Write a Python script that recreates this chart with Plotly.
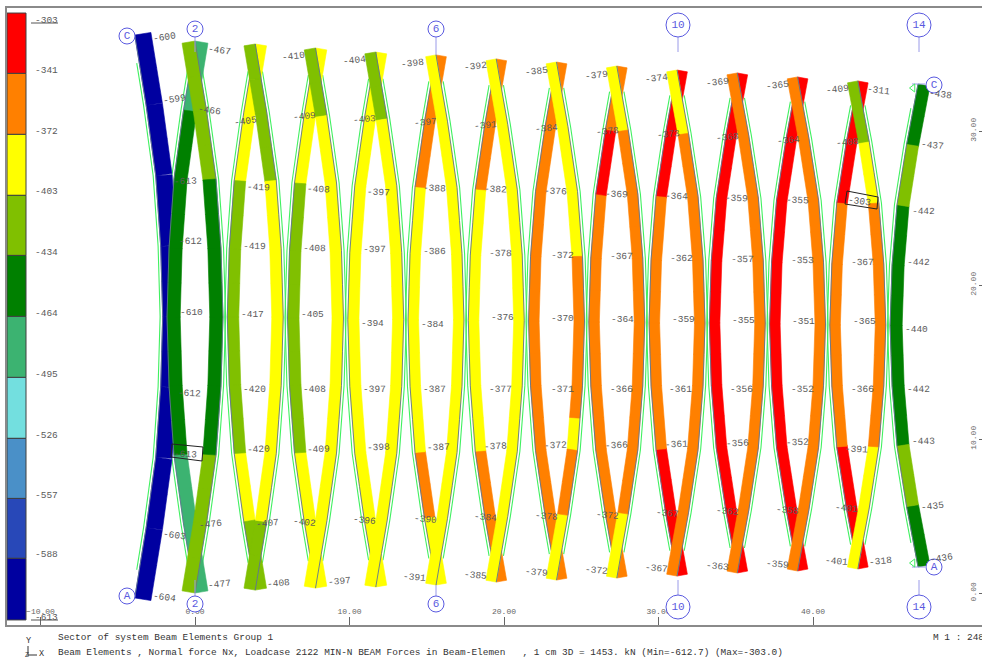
import numpy as np
import plotly.graph_objects as go

# ---------- data (model metres) ----------
GRID_X = [-3.9, 0.0, 3.9, 7.8, 11.7, 15.6, 19.5, 23.4, 27.3, 31.2, 35.1, 39.0, 42.9, 46.8]
TOP_Y = [36.23, 35.84, 35.65, 35.39, 35.13, 34.94, 34.68, 34.48, 34.22, 33.96, 33.77, 33.51, 33.25, 33.05]
BOT_Y = [-0.32, 0.00, 0.19, 0.32, 0.39, 0.52, 0.71, 0.84, 0.97, 1.10, 1.30, 1.43, 1.56, 1.69]
BAND_M = [1.06, 0.85, 0.74, 0.74, 0.72, 0.68, 0.68, 0.68, 0.68, 0.68, 0.68, 0.68, 0.68, 0.78]

NODE_T = [0, .125, .25, .375, .5, .625, .75, .875, 1]
BULGE_M = [0, .74, 1.36, 1.68, 1.81, 1.68, 1.36, .74, 0]

CLASS_NAMES = ["r", "o", "y", "g", "d", "m", "c", "s", "b", "n"]
CLASS_COLORS = ["#ff0000", "#ff8000", "#ffff00", "#80c000", "#008000",
                "#3cb371", "#73dfdf", "#4a90c8", "#2848b8", "#0000a0"]
LEGEND_VALUES = [-303, -341, -372, -403, -434, -464, -495, -526, -557, -588, -613]
LEGEND_EDGES_Y = [37.66, 33.74, 29.78, 25.82, 21.92, 17.96, 14.0, 10.04, 6.14, 2.25, -1.75]
LEGEND_LABEL_Y = [37.2, 33.9, 29.94, 26.04, 22.08, 18.18, 14.22, 10.26, 6.36, 2.47, -1.56]

# per 1/16 of chord: class letter of each piece
CLASSES_L = [
    "mmddddddddddmmmm", "yyyyggggggggyygg", "yyyyggggggggyyyy", "yyyyyyyyyyyyyyyy",
    "ooooyyyyyyyyooyy", "ooooyyyyyyyyoooo", "oooooooooooooooo", "oorroooooooooooo",
    "rrrroooooooorrrr", "rrrrrrrrrrrrrrrr", "rrrrrrrrrrrrrrrr", "rrrroooooooorrrr",
]
CLASSES_R = [
    "ggggddddddddgggg", "ggggyyyyyyyyyygg", "ggyyyyyyyyyyyyyy", "ggyyyyyyyyyyyyyy",
    "yyyyyyyyyyyyyyyy", "yyyyyyyyyyyyyyyy", "yyyyyyoooooyooyy", "yyooooooooooooyy",
    "yyoooooooooooooo", "oooooooooooooooo", "oooooooooooooooo", "ggyyooooooooyyyy",
]
CLASSES_EDGE_A = "nnnnnnnnnnnnnnnn"
CLASSES_EDGE_C = "ddggddddddddggdd"

# beam result labels: grid-wise lists (text, x px, y px, rotation)
LABELS = [
    ("-600",164,37,-8),("-599",174,99,-8),("-603",174,535,8),("-604",164,597,8),
    ("-467",219,50,8),("-466",209,110,8),("-613",185,181,-2),("-612",190,241,-1),("-610",191,312,0),
    ("-612",189,393,2),("-613",185,454,3),("-476",210,524,-6),("-477",219,584,-6),
    ("-405",245,121,-8),("-419",258,187,3),("-419",254,246,1),("-417",252,314,0),("-420",254,389,-1),
    ("-420",258,449,-3),("-407",267,523,-5),("-408",278,583,-5),
    ("-410",293,56,-6),("-409",304,116,-5),("-408",318,189,3),("-408",314,248,1),("-405",312,314,0),
    ("-408",314,389,-1),("-409",318,449,-3),("-402",304,522,6),("-397",339,581,-5),
    ("-404",354,60,-6),("-403",364,119,-5),("-397",378,192,3),("-397",374,249,1),("-394",372,323,0),
    ("-397",374,389,-1),("-398",378,447,-3),("-396",364,520,6),
    ("-398",412,63,-6),("-397",425,122,-5),("-388",434,188,2),("-386",434,251,1),("-384",432,324,0),
    ("-387",434,389,-1),("-387",438,447,-2),("-390",425,519,5),("-391",414,577,5),
    ("-392",475,66,-6),("-391",485,125,-5),("-382",495,189,2),("-378",500,253,1),("-376",502,317,0),
    ("-377",500,389,-1),("-378",495,446,-2),("-384",485,517,5),("-385",475,575,5),
    ("-385",536,71,-6),("-384",546,128,-5),("-376",555,191,2),("-372",562,255,1),("-370",562,318,0),
    ("-371",562,389,-1),("-372",555,445,-2),("-378",546,516,5),("-379",536,572,5),
    ("-379",596,75,-6),("-378",607,131,-5),("-369",616,194,2),("-367",621,256,1),("-364",622,319,0),
    ("-366",621,389,-1),("-366",616,445,-2),("-372",607,515,5),("-372",596,570,5),
    ("-374",656,78,-6),("-373",668,134,-5),("-364",676,196,2),("-362",681,258,1),("-359",683,319,0),
    ("-361",680,389,-1),("-361",676,444,-2),("-367",667,513,5),("-367",656,568,5),
    ("-369",717,82,-6),("-368",727,137,-5),("-359",736,198,2),("-357",742,259,1),("-355",743,320,0),
    ("-356",741,389,-1),("-356",737,443,-2),("-362",727,511,5),("-363",717,566,5),
    ("-365",777,85,-6),("-364",788,140,-5),("-355",797,200,2),("-353",802,260,1),("-351",803,321,0),
    ("-352",802,389,-1),("-352",797,442,-2),("-358",787,510,5),("-359",777,564,5),
    ("-409",837,89,-6),("-311",878,90,8),("-408",847,142,-5),("-303",859,201,8),("-367",862,262,1),
    ("-365",864,321,0),("-366",862,389,-1),("-391",856,449,3),("-401",846,508,5),("-401",836,561,5),
    ("-318",880,561,-6),
    ("-438",940,94,8),("-437",932,145,6),("-442",923,211,1),("-442",918,262,1),("-440",916,329,0),
    ("-442",918,389,-1),("-443",923,441,-1),("-435",932,506,-6),("-436",941,558,-8),
]
GRID_BUBBLES = [("2",195,29,16),("2",195,604,16),("6",436,29,16),("6",436,604,16),
                ("10",678,25,24),("10",678,607,24),("14",919,25,24),("14",919,607,24),
                ("C",127,36,16),("A",127,596,16),("C",934,85,16),("A",934,567,16)]
BUBBLE_STEMS = [(195,37,195,52),(195,580,195,596),(436,37,436,55),(436,585,436,596),
                (678,37,678,52),(678,580,678,595),(919,37,919,52),(919,580,919,595),
                (912,84,925,84),(912,567,925,567)]
BOXES = [[(172,444),(203,447),(202,461),(171,457),(172,444)],
         [(847,191),(878,197),(877,209),(845,204),(847,191)]]
LEGEND_LINES = [(31,23,58,23),(31,620,58,620)]
SUPPORTS = [(913,88),(913,563)]

X_TICKS = [-10, 0, 10, 20, 30, 40]
Y_TICKS = [0, 10, 20, 30]
TITLE_1 = "Sector of system Beam Elements Group 1"
TITLE_2 = ("Beam Elements , Normal force Nx, Loadcase 2122 MIN-N BEAM Forces in Beam-Elemen   , "
           "1 cm 3D = 1453. kN (Min=-612.7) (Max=-303.0)")
SCALE_TEXT = "M 1 : 248"

# ---------- page geometry ----------
W, H = 982, 662
ML, MR, MT, MB = 7, 0, 8, 37
PX_X, PX_Y = 15.45, 15.4
def mx(px): return (px - 195) / PX_X
def my(py): return (593 - py) / PX_Y
def paper_x(px): return (px - ML) / (W - ML - MR)
def paper_y(py): return (H - MB - py) / (H - MT - MB)

FONT = "Liberation Mono"
TXT = "#5a5a5a"
BLUE = "#5a5ae0"
GREEN = "#40f060"
AXIS = "#5f7590"

SUB_T = np.arange(17) / 16
COLOR_OF = dict(zip(CLASS_NAMES, CLASS_COLORS))

fig = go.Figure()

# colour scale
heights, bases = [], []
for i in range(len(CLASS_COLORS)):
    bases.append(LEGEND_EDGES_Y[i + 1])
    heights.append(LEGEND_EDGES_Y[i] - LEGEND_EDGES_Y[i + 1])
fig.add_trace(go.Bar(x=[mx(16.5)] * 10, y=heights, base=bases, width=19 / PX_X,
                     marker=dict(color=CLASS_COLORS, line=dict(color="#404040", width=1)),
                     hoverinfo="skip"))

def chord(line, bulge_sign, band_side):
    """polylines of one chord; band is laid off the axis to band_side."""
    ty, by = TOP_Y[line], BOT_Y[line]
    cx = GRID_X[line] + bulge_sign * np.interp(SUB_T, NODE_T, BULGE_M)
    cy = ty + (by - ty) * SUB_T
    dx = np.diff(cx); dy = np.diff(cy)
    ln = np.hypot(dx, dy)
    nx, ny = -dy / ln, dx / ln
    s = np.sign(nx) * band_side
    nx, ny = nx * s, ny * s
    w = BAND_M[line]
    gt = np.array([.05, .125, .25, .375, .5, .625, .75, .875, .95])
    gx = GRID_X[line] + bulge_sign * np.interp(gt, NODE_T, BULGE_M) - band_side * 2.6 / PX_X
    gy = ty + (by - ty) * gt
    return cx, cy, nx, ny, w, gx, gy

CHORDS = [(0, 1, 1, CLASSES_EDGE_A)]
for i in range(12):
    CHORDS.append((i + 1, -1, 1, CLASSES_L[i]))
    CHORDS.append((i + 1, 1, -1, CLASSES_R[i]))
CHORDS.append((13, -1, 1, CLASSES_EDGE_C))

for line, sgn, side, classes in CHORDS:
    cx, cy, nx, ny, w, gx, gy = chord(line, sgn, side)
    fig.add_trace(go.Scatter(x=gx, y=gy, mode="lines", line=dict(color=GREEN, width=1.1),
                             hoverinfo="skip"))
for line, sgn, side, classes in CHORDS:
    cx, cy, nx, ny, w, gx, gy = chord(line, sgn, side)
    runs = {}
    for k, letter in enumerate(classes):
        xs = [cx[k], cx[k + 1], cx[k + 1] + nx[k] * w, cx[k] + nx[k] * w, cx[k], None]
        ys = [cy[k], cy[k + 1], cy[k + 1] + ny[k] * w, cy[k] + ny[k] * w, cy[k], None]
        r = runs.setdefault(letter, ([], []))
        r[0].extend(xs); r[1].extend(ys)
    for letter, (xs, ys) in runs.items():
        fig.add_trace(go.Scatter(x=xs, y=ys, mode="lines", fill="toself",
                                 fillcolor=COLOR_OF[letter],
                                 line=dict(color=COLOR_OF[letter], width=0.6),
                                 hoverinfo="skip"))
    fig.add_trace(go.Scatter(x=cx, y=cy, mode="lines", line=dict(color=AXIS, width=0.9),
                             hoverinfo="skip"))

# stems, boxes, legend rules
for x0, y0, x1, y1 in BUBBLE_STEMS:
    fig.add_trace(go.Scatter(x=[mx(x0), mx(x1)], y=[my(y0), my(y1)], mode="lines",
                             line=dict(color="#9a9ae8", width=1), hoverinfo="skip"))
for b in BOXES:
    fig.add_trace(go.Scatter(x=[mx(p[0]) for p in b], y=[my(p[1]) for p in b], mode="lines",
                             line=dict(color="#222222", width=1), hoverinfo="skip"))
for x0, y0, x1, y1 in LEGEND_LINES:
    fig.add_trace(go.Scatter(x=[mx(x0), mx(x1)], y=[my(y0), my(y1)], mode="lines",
                             line=dict(color="#555555", width=1), hoverinfo="skip"))
fig.add_trace(go.Scatter(x=[mx(p[0]) for p in SUPPORTS], y=[my(p[1]) for p in SUPPORTS],
                         mode="markers", marker=dict(symbol="triangle-left-open", size=7,
                         color=GREEN, line=dict(color=GREEN, width=1)), hoverinfo="skip"))

# grid bubbles
for t, x, y, d in GRID_BUBBLES:
    fig.add_trace(go.Scatter(x=[mx(x)], y=[my(y)], mode="markers+text", text=[t],
                             textposition="middle center",
                             textfont=dict(family=FONT, size=11, color=BLUE),
                             marker=dict(symbol="circle", size=d, color="white",
                                         line=dict(color=BLUE, width=1)),
                             hoverinfo="skip"))

ann = []
for t, x, y, a in LABELS:
    ann.append(dict(x=mx(x), y=my(y), xref="x", yref="y", text=t, textangle=a, showarrow=False,
                    xanchor="center", yanchor="middle",
                    font=dict(family=FONT, size=9.5, color=TXT)))
for v, y in zip(LEGEND_VALUES, LEGEND_LABEL_Y):
    ann.append(dict(x=mx(46.5), y=y, xref="x", yref="y", text=str(v), showarrow=False,
                    xanchor="center", yanchor="middle",
                    font=dict(family=FONT, size=9.5, color=TXT)))
for t, x, y in [(TITLE_1, 56, 637), (TITLE_2, 56, 652), (SCALE_TEXT, 931, 637)]:
    ann.append(dict(x=paper_x(x), y=paper_y(y), xref="paper", yref="paper", text=t, showarrow=False,
                    xanchor="left", yanchor="middle", font=dict(family=FONT, size=9.45, color="#333333")))
for t, x, y, s in [("Y", 28, 641, 8.5), ("X", 41, 654, 8.5), ("Z", 27, 655, 6.5)]:
    ann.append(dict(x=paper_x(x), y=paper_y(y), xref="paper", yref="paper", text=t, showarrow=False,
                    xanchor="center", yanchor="middle", font=dict(family=FONT, size=s, color="#333333")))

shapes = [dict(type="line", xref="paper", yref="paper", x0=paper_x(28), x1=paper_x(28),
               y0=paper_y(646), y1=paper_y(656), line=dict(color="#333333", width=1)),
          dict(type="line", xref="paper", yref="paper", x0=paper_x(28), x1=paper_x(37),
               y0=paper_y(655), y1=paper_y(655), line=dict(color="#333333", width=1))]

fig.update_layout(
    width=W, height=H, margin=dict(l=ML, r=MR, t=MT, b=MB, pad=0),
    paper_bgcolor="white", plot_bgcolor="white", showlegend=False, barmode="overlay",
    annotations=ann, shapes=shapes,
    xaxis=dict(range=[mx(7), mx(982)], showgrid=False, zeroline=False, showline=True, mirror=True,
               linecolor="#8a8a8a", linewidth=2, ticks="inside", ticklen=8, tickcolor="#666666",
               tickvals=X_TICKS, tickformat=".2f", ticklabelposition="inside", layer="below traces",
               tickfont=dict(family=FONT, size=8, color="#666666")),
    yaxis=dict(range=[my(625), my(8)], side="right", showgrid=False, zeroline=False, showline=True,
               mirror=True, linecolor="#8a8a8a", linewidth=2, ticks="inside", ticklen=3,
               tickcolor="#666666", tickvals=Y_TICKS, tickformat=".2f",
               ticklabelposition="inside", tickangle=-90, layer="below traces",
               tickfont=dict(family=FONT, size=8, color="#666666")),
)
fig.write_html("out.html", config={"displayModeBar": False},
               post_script="document.body.style.margin='0';")
